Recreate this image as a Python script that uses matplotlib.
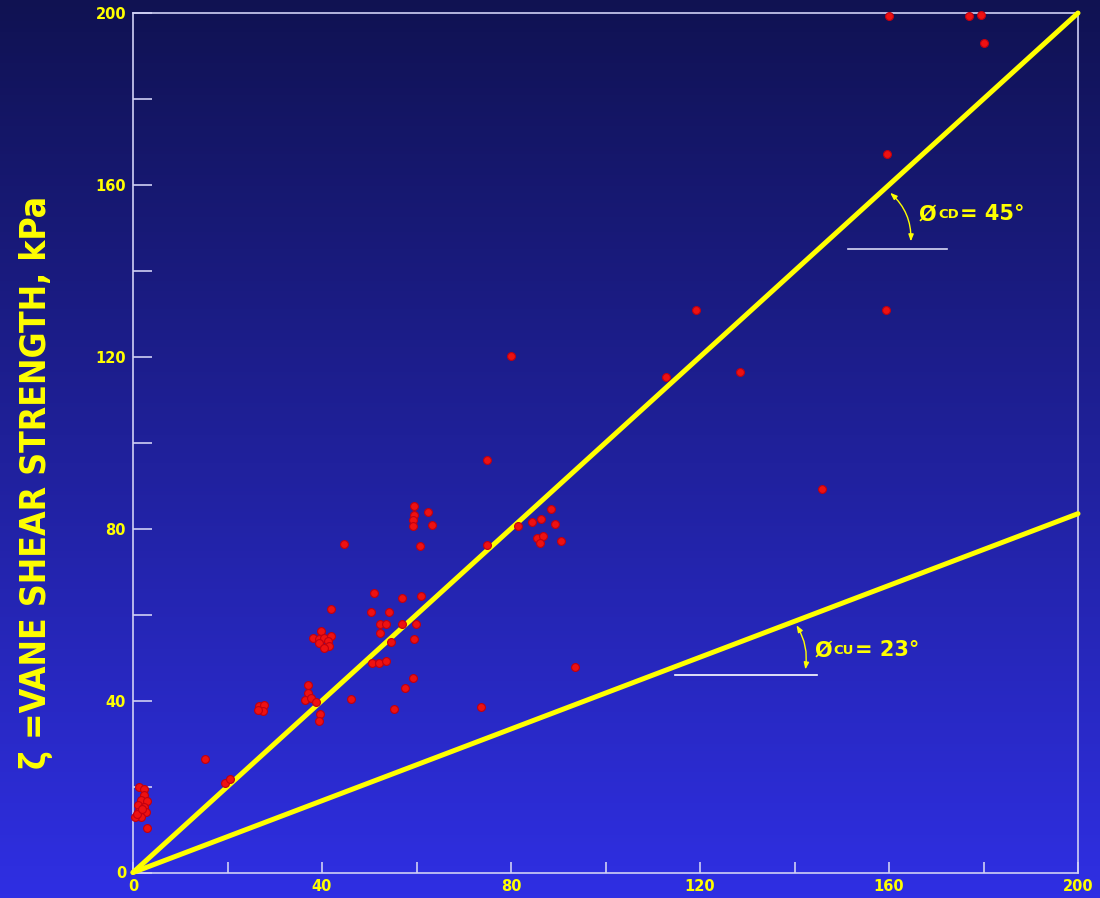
import numpy as np
import matplotlib
matplotlib.use("Agg")
import matplotlib.pyplot as plt
from matplotlib.patches import FancyArrowPatch

# ---- data ----
pts_x = [1.3, 2.3, 2.3, 1.7, 3.0, 1.1, 2.3, 1.1, 2.8, 1.7, 0.4, 3.0, 0.8, 2.0,
         15.3, 19.5, 20.5,
         26.7, 27.7, 27.5, 26.5,
         51.0, 57.0, 61.0, 41.9, 50.4, 54.2, 52.3, 53.5, 56.9, 59.9, 39.8, 52.3,
         38.1, 39.4, 40.4, 41.9, 41.3, 39.4, 41.5, 40.4, 54.6, 59.5, 50.6, 52.1,
         53.5, 59.3, 57.6, 37.0, 37.0, 36.4, 37.7, 38.7, 46.1, 39.6, 39.4, 55.2,
         44.7,
         59.5, 62.4, 59.5, 59.3, 59.3, 63.3, 60.8, 74.9, 81.5, 84.4, 86.3, 88.5,
         89.3, 85.5, 86.8, 86.1, 90.6,
         74.9, 80.0, 93.5, 73.7, 112.8, 119.2, 128.5, 145.8, 159.4, 159.6,
         160.0, 176.9, 179.5, 180.1]
pts_y = [19.9, 19.4, 18.0, 16.9, 16.6, 15.7, 15.3, 14.1, 14.1, 12.9, 12.9, 10.4, 13.5, 14.8,
         26.5, 20.8, 21.8,
         38.8, 39.0, 37.6, 37.8,
         65.1, 63.9, 64.4, 61.3, 60.6, 60.6, 57.9, 57.9, 57.9, 57.9, 56.2, 55.7,
         54.6, 54.3, 54.6, 55.1, 53.9, 53.4, 52.7, 52.3, 53.7, 54.3, 48.8, 48.8,
         49.2, 45.3, 43.0, 43.7, 41.8, 40.2, 40.6, 39.7, 40.4, 36.9, 35.3, 38.1,
         76.5,
         85.3, 83.9, 83.2, 82.1, 80.7, 80.9, 76.0, 76.2, 80.7, 81.6, 82.3, 84.6,
         81.1, 77.9, 78.4, 76.7, 77.2,
         96.0, 120.3, 47.9, 38.5, 115.4, 131.0, 116.5, 89.3, 131.0, 167.2,
         199.3, 199.3, 199.5, 193.1]

cd_line_x = [0, 200]
cd_line_y = [0, 200]
cu_line_x = [0, 200]
cu_line_y = [0, 83.5]

tick_vals = [0, 20, 40, 60, 80, 100, 120, 140, 160, 180, 200]
tick_labels = ['0', '', '40', '', '80', '', '120', '', '160', '', '200']

YEL = '#ffff00'

fig = plt.figure(figsize=(11, 8.98), dpi=100)

# background gradient
bg = fig.add_axes([0, 0, 1, 1], zorder=-10)
top = np.array([0x10, 0x12, 0x52]) / 255
bot = np.array([0x2f, 0x2f, 0xe3]) / 255
t = np.linspace(0, 1, 256)[:, None]
grad = top[None, :] * (1 - t) + bot[None, :] * t
bg.imshow(grad[:, None, :], aspect='auto', extent=[0, 1, 0, 1])
bg.set_axis_off()

ax = fig.add_axes([133 / 1100, 25.5 / 898, 945 / 1100, 859.5 / 898])
ax.patch.set_alpha(0)
ax.set_xlim(0, 200)
ax.set_ylim(0, 200)

for s in ax.spines.values():
    s.set_color('#d0d0f4')
    s.set_linewidth(1.2)

ax.set_xticks(tick_vals)
ax.set_xticklabels(tick_labels)
ax.set_yticks(tick_vals)
ax.set_yticklabels(tick_labels)
ax.tick_params(axis='x', direction='in', length=8, width=1.2, color='#d0d0f4',
               labelcolor=YEL, labelsize=10.5, pad=5)
ax.tick_params(axis='y', direction='in', length=14, width=1.2, color='#d0d0f4',
               labelcolor=YEL, labelsize=10.5, pad=5)
for lab in ax.get_xticklabels() + ax.get_yticklabels():
    lab.set_fontweight('bold')
    lab.set_family('DejaVu Sans')

ax.plot(cd_line_x, cd_line_y, color=YEL, lw=3.6, solid_capstyle='round', zorder=3, clip_on=False)
ax.plot(cu_line_x, cu_line_y, color=YEL, lw=3.6, solid_capstyle='round', zorder=3, clip_on=False)

ax.scatter(pts_x, pts_y, s=32, color='#ee1111', edgecolor='#c00010', linewidth=0.8,
           zorder=4, clip_on=False)

# angle annotations
ax.plot([151.3, 172.3], [145.1, 145.1], color='#d8d8f4', lw=1.2, zorder=2)
ax.plot([114.7, 144.8], [46.0, 46.0], color='#ffffff', lw=1.2, zorder=2)

a1 = FancyArrowPatch((159.8, 158.6), (164.6, 146.2), arrowstyle='<|-|>,head_length=4,head_width=1.5',
                     connectionstyle='arc3,rad=-0.25', color=YEL, lw=1.0, zorder=5)
ax.add_patch(a1)
a2 = FancyArrowPatch((140.1, 58.1), (142.2, 46.6), arrowstyle='<|-|>,head_length=4,head_width=1.5',
                     connectionstyle='arc3,rad=-0.2', color=YEL, lw=1.0, zorder=5)
ax.add_patch(a2)

txtkw = dict(color=YEL, fontweight='bold', family='DejaVu Sans', zorder=6)
ax.text(166.3, 153.2, 'Ø', fontsize=15, ha='left', va='center', **txtkw)
ax.text(170.4, 153.2, 'CD', fontsize=9.5, ha='left', va='center', **txtkw)
ax.text(175.0, 153.2, '= 45°', fontsize=15, ha='left', va='center', **txtkw)

ax.text(144.2, 51.7, 'Ø', fontsize=15, ha='left', va='center', **txtkw)
ax.text(148.3, 51.7, 'CU', fontsize=9.5, ha='left', va='center', **txtkw)
ax.text(152.9, 51.7, '= 23°', fontsize=15, ha='left', va='center', **txtkw)

fig.text(36 / 1100, 1 - 482 / 898, 'ζ =VANE SHEAR STRENGTH, kPa', rotation=90,
         color=YEL, fontsize=25.5, fontweight='heavy', family=['DejaVu Sans'],
         fontstretch='condensed', ha='center', va='center')

fig.savefig('out.png', dpi=100)
